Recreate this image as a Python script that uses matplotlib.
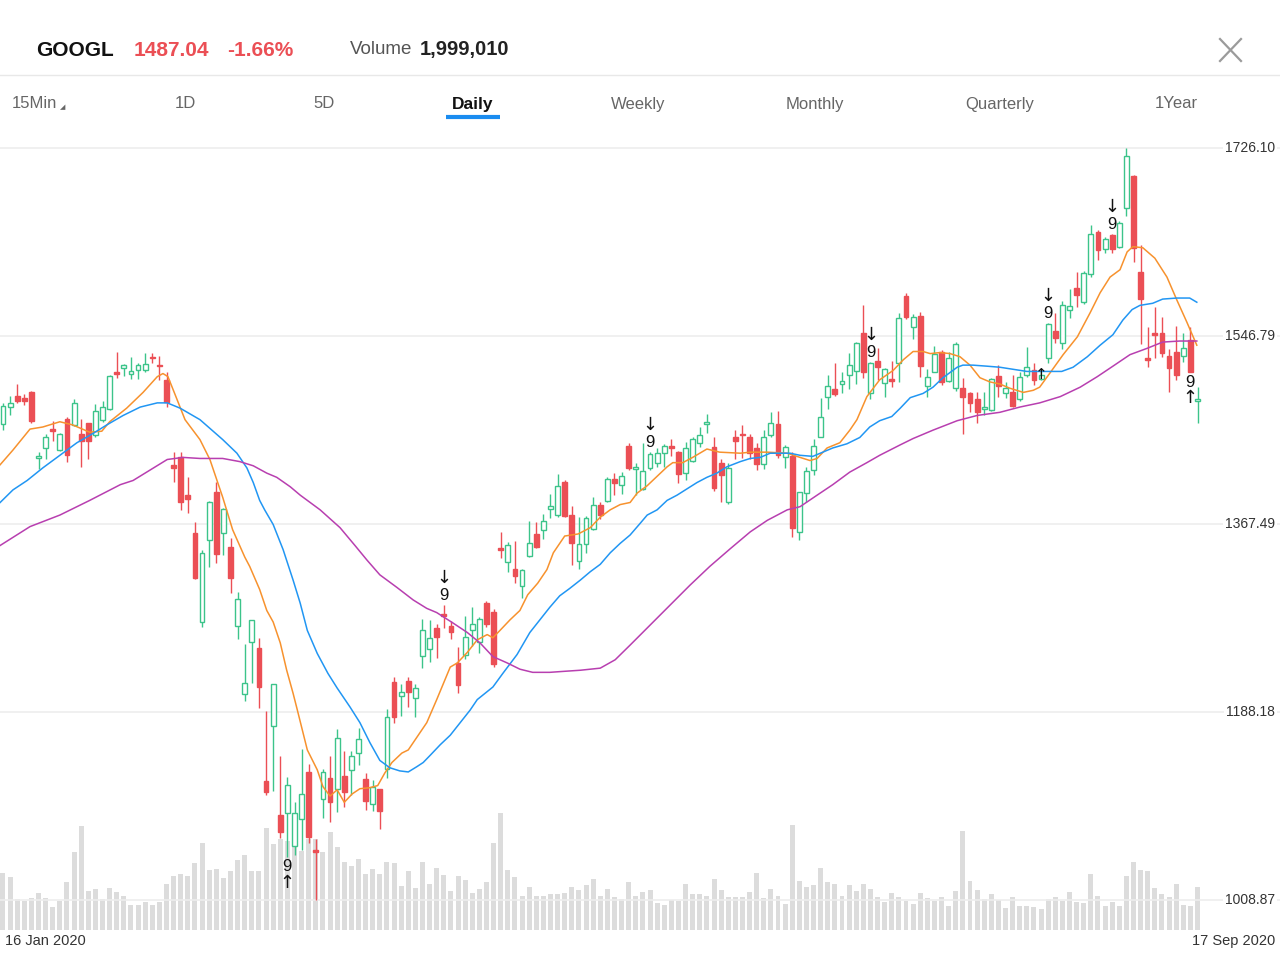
import matplotlib
matplotlib.use("Agg")
import matplotlib.pyplot as plt
import matplotlib.transforms as mtransforms

plt.rcParams['font.family'] = ['Liberation Sans', 'DejaVu Sans']

symbol = 'GOOGL'
last_price = '1487.04'
change_pct = '-1.66%'
last_volume = '1,999,010'
periods = ['15Min', '1D', '5D', 'Daily', 'Weekly', 'Monthly', 'Quarterly', '1Year']
active_period = 'Daily'
start_label = '16 Jan 2020'
end_label = '17 Sep 2020'
price_ticks = [1726.10, 1546.79, 1367.49, 1188.18, 1008.87]

# daily candles, 16 Jan 2020 .. 17 Sep 2020
opens = [1463, 1479, 1490, 1488, 1493, 1430, 1440, 1458, 1438, 1468,
         1462, 1453, 1464, 1452, 1467, 1477, 1512, 1516, 1511, 1514,
         1514, 1527, 1519, 1505, 1424, 1431, 1395, 1359, 1274, 1352,
         1398, 1359, 1346, 1270, 1205, 1255, 1249, 1122, 1175, 1090,
         1092, 1060, 1086, 1131, 1057, 1105, 1125, 1115, 1127, 1133,
         1149, 1124, 1100, 1115, 1134, 1217, 1203, 1218, 1202, 1242,
         1248, 1268, 1282, 1270, 1235, 1243, 1266, 1255, 1292, 1284,
         1345, 1331, 1325, 1308, 1337, 1358, 1362, 1382, 1376, 1408,
         1376, 1332, 1348, 1363, 1386, 1389, 1410, 1405, 1442, 1420,
         1401, 1421, 1426, 1435, 1442, 1436, 1416, 1428, 1445, 1463,
         1441, 1426, 1388, 1450, 1453, 1450, 1440, 1425, 1452, 1463,
         1431, 1432, 1360, 1397, 1419, 1450, 1489, 1496, 1501, 1510,
         1513, 1550, 1492, 1523, 1502, 1506, 1521, 1585, 1555, 1566,
         1499, 1512, 1532, 1504, 1497, 1497, 1492, 1487, 1477, 1476,
         1509, 1492, 1493, 1487, 1510, 1514, 1506, 1526, 1552, 1540,
         1572, 1593, 1579, 1606, 1646, 1630, 1643, 1632, 1669, 1699,
         1608, 1526, 1550, 1550, 1528, 1532, 1528, 1543, 1485]
highs = [1483, 1490, 1501, 1491, 1494, 1436, 1453, 1466, 1454, 1470,
         1487, 1468, 1464, 1482, 1485, 1510, 1532, 1520, 1527, 1521,
         1531, 1531, 1528, 1512, 1436, 1436, 1412, 1369, 1343, 1389,
         1408, 1383, 1354, 1303, 1253, 1276, 1259, 1189, 1215, 1146,
         1126, 1102, 1153, 1139, 1067, 1134, 1146, 1172, 1151, 1151,
         1173, 1130, 1123, 1115, 1191, 1222, 1215, 1222, 1215, 1277,
         1276, 1272, 1290, 1275, 1250, 1280, 1288, 1279, 1294, 1286,
         1360, 1350, 1351, 1325, 1370, 1369, 1377, 1396, 1415, 1409,
         1385, 1374, 1375, 1393, 1388, 1412, 1416, 1417, 1445, 1426,
         1445, 1436, 1440, 1444, 1449, 1437, 1446, 1450, 1460, 1472,
         1450, 1429, 1426, 1457, 1462, 1453, 1445, 1457, 1474, 1475,
         1443, 1436, 1398, 1422, 1449, 1488, 1510, 1521, 1512, 1531,
         1541, 1576, 1522, 1535, 1516, 1523, 1569, 1588, 1568, 1570,
         1515, 1537, 1533, 1532, 1541, 1507, 1493, 1493, 1493, 1507,
         1519, 1503, 1510, 1512, 1536, 1521, 1515, 1559, 1569, 1580,
         1592, 1608, 1609, 1653, 1648, 1641, 1644, 1656, 1726.10, 1700,
         1634, 1555, 1574, 1565, 1534, 1556, 1550, 1555, 1498]
lows = [1457, 1471, 1483, 1481, 1464, 1420, 1429, 1447, 1437, 1427,
        1461, 1422, 1429, 1450, 1465, 1476, 1507, 1509, 1506, 1506,
        1512, 1521, 1505, 1479, 1408, 1381, 1378, 1315, 1269, 1326,
        1330, 1338, 1302, 1258, 1199, 1216, 1192, 1109, 1113, 1068,
        1050, 1052, 1057, 1063, 1008.87, 1087, 1083, 1093, 1098, 1109,
        1138, 1095, 1094, 1077, 1125, 1178, 1184, 1193, 1183, 1230,
        1236, 1240, 1268, 1258, 1206, 1239, 1251, 1244, 1269, 1231,
        1335, 1322, 1311, 1297, 1336, 1345, 1353, 1373, 1374, 1374,
        1328, 1325, 1340, 1362, 1372, 1388, 1395, 1396, 1419, 1395,
        1400, 1419, 1422, 1422, 1432, 1407, 1409, 1427, 1441, 1454,
        1399, 1388, 1387, 1429, 1430, 1429, 1419, 1420, 1450, 1430,
        1421, 1355, 1352, 1388, 1414, 1450, 1477, 1490, 1492, 1496,
        1501, 1507, 1487, 1505, 1489, 1498, 1503, 1563, 1544, 1508,
        1489, 1512, 1500, 1503, 1494, 1453, 1474, 1464, 1471, 1475,
        1489, 1488, 1479, 1485, 1508, 1500, 1505, 1521, 1540, 1534,
        1564, 1574, 1577, 1603, 1619, 1626, 1626, 1631, 1661, 1617,
        1539, 1517, 1526, 1527, 1493, 1505, 1522, 1512, 1464]
closes = [1480, 1483, 1485, 1485, 1466, 1432, 1450, 1456, 1453, 1433,
          1483, 1447, 1447, 1475, 1479, 1509, 1511, 1519, 1513, 1519,
          1520, 1526, 1518, 1484, 1421, 1388, 1391, 1316, 1340, 1388,
          1339, 1382, 1316, 1296, 1216, 1276, 1212, 1112, 1215, 1074,
          1119, 1092, 1110, 1069, 1055, 1131, 1102, 1163, 1112, 1146,
          1162, 1103, 1117, 1094, 1183, 1183, 1207, 1207, 1211, 1266,
          1259, 1260, 1280, 1264, 1214, 1260, 1272, 1277, 1272, 1234,
          1343, 1347, 1318, 1324, 1349, 1346, 1370, 1385, 1404, 1375,
          1349, 1348, 1373, 1386, 1376, 1410, 1407, 1413, 1421, 1422,
          1418, 1434, 1435, 1442, 1440, 1415, 1440, 1449, 1452, 1465,
          1402, 1414, 1421, 1447, 1452, 1435, 1425, 1450, 1464, 1433,
          1441, 1364, 1398, 1418, 1442, 1470, 1499, 1491, 1504, 1519,
          1540, 1512, 1521, 1517, 1515, 1504, 1564, 1565, 1565, 1518,
          1508, 1530, 1503, 1526, 1539, 1489, 1483, 1474, 1479, 1506,
          1499, 1497, 1480, 1508, 1517, 1505, 1510, 1558, 1545, 1576,
          1575, 1586, 1607, 1644, 1629, 1639, 1630, 1655, 1718, 1631,
          1582, 1524, 1548, 1531, 1516, 1510, 1535, 1512, 1487.04]
# volume, millions of shares
volumes = [2.65, 2.46, 1.44, 1.35, 1.49, 1.72, 1.49, 1.07, 1.35, 2.23,
           3.63, 4.84, 1.81, 1.91, 1.44, 1.95, 1.77, 1.58, 1.16, 1.16,
           1.30, 1.16, 1.30, 2.14, 2.51, 2.60, 2.51, 3.12, 4.05, 2.79,
           2.84, 2.42, 2.74, 3.26, 3.49, 2.74, 2.74, 4.74, 4.00, 4.23,
           4.14, 4.70, 3.67, 4.23, 4.23, 3.63, 4.56, 3.86, 3.16, 2.98,
           3.30, 2.60, 2.84, 2.60, 3.16, 3.12, 2.05, 2.74, 1.95, 3.16,
           2.14, 2.88, 2.56, 1.81, 2.51, 2.33, 1.72, 1.91, 2.23, 4.05,
           5.44, 2.79, 2.46, 1.58, 2.00, 1.58, 1.58, 1.67, 1.67, 1.72,
           2.00, 1.86, 2.09, 2.37, 1.58, 1.91, 1.53, 1.44, 2.23, 1.58,
           1.77, 1.86, 1.26, 1.16, 1.40, 1.35, 2.14, 1.67, 1.67, 1.58,
           2.37, 1.86, 1.53, 1.53, 1.53, 1.77, 2.65, 1.49, 1.91, 1.58,
           1.21, 4.88, 2.28, 2.00, 2.09, 2.88, 2.23, 2.14, 1.58, 2.09,
           1.81, 2.14, 1.91, 1.53, 1.30, 1.72, 1.53, 1.35, 1.21, 1.72,
           1.49, 1.35, 1.53, 1.12, 1.81, 4.60, 2.28, 1.86, 1.44, 1.67,
           1.40, 1.02, 1.53, 1.12, 1.12, 1.07, 0.98, 1.44, 1.53, 1.35,
           1.77, 1.30, 1.26, 2.60, 1.58, 1.12, 1.30, 1.12, 2.51, 3.16,
           2.79, 2.74, 1.95, 1.67, 1.53, 2.14, 1.16, 1.12, 1.999010]

# moving averages (position in trading days, price)
ma_short_x = [-0.4, 1.4, 3.8, 5.6, 8.0, 9.8, 12.2, 13.9, 15.0, 17.4,
              19.7, 21.7, 22.5, 23.2, 24.2, 25.6, 27.7, 29.1, 30.9, 32.3,
              34.0, 34.7, 36.1, 37.1, 38.0, 39.0, 39.9, 40.8, 41.4, 42.8,
              44.2, 45.0, 46.0, 47.0, 48.0, 49.1, 50.2, 51.6, 52.7, 53.7,
              54.7, 56.1, 57.0, 58.2, 59.6, 61.0, 62.9, 63.9, 65.3, 66.7,
              68.1, 68.9, 69.9, 71.3, 72.7, 73.8, 75.2, 76.5, 77.4, 79.0,
              80.9, 82.6, 84.0, 85.4, 86.8, 88.2, 89.2, 90.6, 92.0, 93.4,
              94.2, 95.6, 97.0, 99.0, 100.8, 103.7, 105.1, 107.5, 110.3, 112.1,
              113.5, 114.5, 115.9, 117.7, 119.1, 120.1, 121.5, 123.3, 125.2, 126.6,
              128.0, 129.4, 130.4, 131.8, 133.2, 134.6, 136.0, 137.4, 138.8, 140.2,
              141.6, 143.5, 144.9, 145.8, 147.3, 149.1, 151.1, 152.9, 154.3, 155.7,
              157.1, 158.1, 158.9, 160.3, 162.0, 163.7, 165.1, 166.5, 167.9]
ma_short = [1424, 1438, 1458, 1460, 1465, 1462, 1455, 1456, 1465, 1478,
            1493, 1508, 1511, 1508, 1491, 1467, 1448, 1429, 1393, 1362,
            1336, 1327, 1305, 1285, 1274, 1254, 1228, 1206, 1190, 1152,
            1133, 1117, 1108, 1114, 1102, 1110, 1115, 1116, 1118, 1130,
            1140, 1149, 1152, 1164, 1178, 1200, 1231, 1235, 1245, 1257,
            1262, 1259, 1266, 1276, 1285, 1300, 1311, 1324, 1340, 1356,
            1358, 1364, 1374, 1381, 1386, 1388, 1397, 1404, 1413, 1422,
            1426, 1426, 1431, 1439, 1436, 1435, 1436, 1436, 1435, 1431,
            1428, 1430, 1440, 1445, 1457, 1467, 1489, 1505, 1514, 1524,
            1532, 1532, 1530, 1531, 1530, 1527, 1519, 1507, 1503, 1501,
            1497, 1493, 1495, 1498, 1512, 1529, 1546, 1569, 1588, 1603,
            1610, 1627, 1632, 1631, 1621, 1603, 1581, 1560, 1538]
ma_mid_x = [-0.4, 1.4, 3.4, 5.6, 8.0, 10.4, 12.7, 14.6, 16.9, 19.3,
            21.7, 23.1, 24.9, 27.7, 30.9, 32.9, 34.3, 35.2, 36.1, 36.8,
            38.0, 39.4, 40.8, 41.8, 42.8, 44.2, 45.7, 47.0, 48.8, 50.2,
            51.6, 53.0, 54.4, 55.8, 57.0, 58.2, 59.1, 60.1, 61.5, 62.9,
            64.3, 65.7, 66.7, 68.9, 70.3, 72.3, 74.1, 75.5, 76.9, 78.3,
            79.7, 81.2, 82.6, 84.0, 85.4, 86.8, 88.2, 89.6, 90.6, 92.0,
            93.4, 94.8, 96.2, 97.6, 99.0, 100.4, 101.8, 103.7, 105.1, 106.5,
            107.9, 109.3, 110.7, 112.1, 113.9, 115.3, 116.7, 118.7, 120.5, 121.9,
            123.3, 125.0, 126.2, 127.6, 129.4, 130.8, 132.2, 133.2, 134.2, 135.0,
            136.4, 138.4, 140.2, 142.1, 144.0, 145.8, 148.9, 150.5, 152.5, 154.3,
            156.1, 157.5, 158.8, 159.9, 161.7, 163.1, 165.1, 166.9, 167.9]
ma_mid = [1388, 1400, 1409, 1421, 1433, 1445, 1454, 1462, 1471, 1479,
          1483, 1483, 1478, 1467, 1448, 1435, 1421, 1407, 1390, 1381,
          1367, 1343, 1314, 1292, 1266, 1244, 1225, 1211, 1193, 1178,
          1159, 1142, 1135, 1132, 1131, 1136, 1140, 1147, 1157, 1166,
          1178, 1190, 1200, 1212, 1225, 1243, 1264, 1276, 1288, 1299,
          1306, 1314, 1322, 1329, 1340, 1349, 1357, 1368, 1376, 1381,
          1390, 1395, 1401, 1407, 1412, 1416, 1422, 1427, 1430, 1431,
          1435, 1435, 1435, 1433, 1432, 1436, 1440, 1444, 1450, 1460,
          1466, 1470, 1478, 1488, 1492, 1498, 1507, 1512, 1517, 1519,
          1519, 1518, 1517, 1515, 1513, 1513, 1513, 1517, 1527, 1538,
          1548, 1562, 1572, 1576, 1578, 1582, 1583, 1583, 1579]
ma_long_x = [-0.4, 3.8, 8.0, 12.2, 16.5, 18.3, 20.7, 23.1, 25.3, 27.7,
             30.9, 33.3, 35.2, 37.1, 38.5, 40.4, 41.8, 44.6, 47.4, 49.5,
             51.2, 53.0, 55.4, 57.7, 59.6, 61.0, 63.3, 65.3, 67.1, 68.9,
             70.9, 72.7, 74.5, 76.9, 79.0, 81.2, 84.0, 86.1, 88.2, 91.0,
             93.8, 96.6, 99.4, 102.3, 105.1, 107.5, 110.3, 112.1, 114.5, 116.7,
             119.1, 121.5, 123.3, 126.2, 128.0, 130.8, 134.2, 137.0, 140.2, 143.0,
             145.8, 148.7, 151.5, 153.9, 156.1, 158.5, 160.9, 163.1, 165.5, 167.9]
ma_long = [1347, 1365, 1376, 1390, 1405, 1409, 1419, 1429, 1431, 1430,
           1430, 1427, 1423, 1416, 1412, 1403, 1395, 1381, 1364, 1347,
           1333, 1319, 1307, 1295, 1287, 1283, 1273, 1264, 1254, 1241,
           1235, 1229, 1226, 1226, 1227, 1228, 1230, 1238, 1252, 1271,
           1290, 1309, 1327, 1344, 1360, 1371, 1381, 1384, 1395, 1405,
           1417, 1426, 1433, 1443, 1449, 1457, 1466, 1471, 1474, 1479,
           1483, 1489, 1498, 1508, 1518, 1529, 1535, 1541, 1542, 1542]

# TD sequential marks (candle index)
sell_nines = [62, 91, 122, 147, 156]
buy_nines = [40, 167]
arrow_only = [146]

UP = '#3cc48a'
DOWN = '#eb4f55'
W, H = 1280, 960

fig = plt.figure(figsize=(12.8, 9.6), dpi=100)
rect = [0, 30 / H, 1, 790 / H]
ax_vol = fig.add_axes(rect)
ax = fig.add_axes(rect, sharex=ax_vol)
ax.patch.set_visible(False)

n = len(closes)
idx = list(range(n))

ax_vol.bar(idx, volumes, width=0.7, color='#dcdcdc', linewidth=0)
ax_vol.set_ylim(0, 36.7)
ax_vol.set_xlim(-0.42, 179.6)
ax_vol.axis('off')

for p in price_ticks:
    ax.axhline(p, color='#ededed', lw=1.2, zorder=0)

cols = [UP if closes[i] >= opens[i] else DOWN for i in idx]
ax.vlines(idx, lows, highs, colors=cols, lw=1.0, zorder=2)
bottoms = [min(opens[i], closes[i]) for i in idx]
heights = [max(abs(closes[i] - opens[i]), 0.9) for i in idx]
faces = ['white' if c == UP else c for c in cols]
ax.bar(idx, heights, bottom=bottoms, width=0.68, color=faces,
       edgecolor=cols, linewidth=1.0, zorder=3)

ax.plot(ma_short_x, ma_short, color='#f7922e', lw=1.1, zorder=4)
ax.plot(ma_mid_x, ma_mid, color='#2196f3', lw=1.1, zorder=4)
ax.plot(ma_long_x, ma_long, color='#b83fb0', lw=1.1, zorder=4)

for i in sell_nines:
    ax.annotate('9', (i, highs[i]), xytext=(0, 7), textcoords='offset points',
                ha='center', va='center', fontsize=12, color='#111', zorder=5)
    ax.annotate('↓', (i, highs[i]), xytext=(0, 19.5), textcoords='offset points',
                ha='center', va='center', fontsize=13, color='#111',
                family='DejaVu Sans', zorder=5)
for i in buy_nines:
    ax.annotate('9', (i, lows[i]), xytext=(0, -7), textcoords='offset points',
                ha='center', va='center', fontsize=12, color='#111', zorder=5)
    ax.annotate('↑', (i, lows[i]), xytext=(0, -18.5), textcoords='offset points',
                ha='center', va='center', fontsize=13, color='#111',
                family='DejaVu Sans', zorder=5)
for i in arrow_only:
    ax.text(i, (highs[i] + lows[i]) / 2, '↑', ha='center', va='center',
            fontsize=11, color='#111', family='DejaVu Sans', zorder=5)

ax.set_xlim(-0.42, 179.6)
ax.set_ylim(980.25, 1733.73)
ax.axis('off')

trans = mtransforms.blended_transform_factory(ax.transAxes, ax.transData)
for p in price_ticks:
    ax.text(1275 / W, p, f'{p:.2f}', transform=trans, ha='right', va='center',
            fontsize=10, color='#333333', zorder=6,
            bbox=dict(facecolor='white', edgecolor='none', pad=1.5))

# header and footer
ov = fig.add_axes([0, 0, 1, 1])
ov.set_xlim(0, W)
ov.set_ylim(H, 0)
ov.axis('off')
ov.patch.set_visible(False)

ov.text(36, 50, symbol, fontsize=15, fontweight='bold', color='#111111', va='center')
ov.text(134, 50, last_price, fontsize=15, fontweight='bold', color=DOWN, va='center')
ov.text(227, 50, change_pct, fontsize=15, fontweight='bold', color=DOWN, va='center')
ov.text(350, 50, 'Volume', fontsize=13.5, color='#555555', va='center')
ov.text(420, 50, last_volume, fontsize=14.5, fontweight='bold', color='#222222', va='center')
ov.plot([1220, 1241], [39, 61], color='#9b9b9b', lw=1.6)
ov.plot([1220, 1241], [61, 39], color='#9b9b9b', lw=1.6)
ov.plot([0, W], [75, 75], color='#e8e8e8', lw=1.0)

tab_x = [12, 185, 324, 473, 638, 815, 1000, 1176]
for name, x in zip(periods, tab_x):
    if name == active_period:
        ov.text(x, 104, name, fontsize=12.5, fontweight='bold', color='#111111',
                ha='center', va='center')
        ov.plot([446, 500], [117, 117], color='#1a8cf0', lw=3, solid_capstyle='butt')
    elif x == tab_x[0]:
        ov.text(x, 104, name, fontsize=12, color='#666666', ha='left', va='center')
        ov.text(63, 107, '◢', fontsize=5, color='#666666', ha='center', va='center',
                family='DejaVu Sans')
    else:
        ov.text(x, 104, name, fontsize=12, color='#666666', ha='center', va='center')

ov.text(5, 941, start_label, fontsize=10.5, color='#333333', va='center')
ov.text(1275, 941, end_label, fontsize=10.5, color='#333333', va='center', ha='right')

fig.savefig('out.png', dpi=100)
